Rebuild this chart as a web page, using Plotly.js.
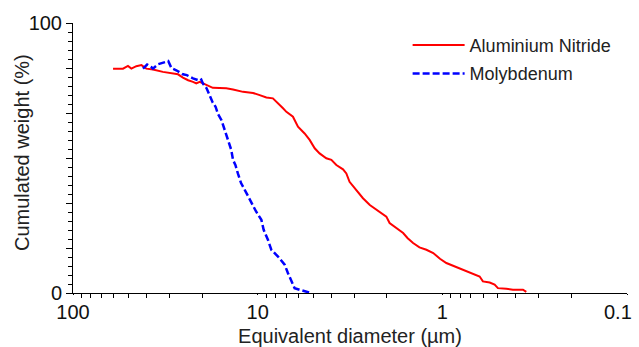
<!DOCTYPE html>
<html>
<head>
<meta charset="utf-8">
<script src="https://cdn.plot.ly/plotly-3.0.1.min.js"></script>
<style>html,body{margin:0;padding:0;background:#fff;}#chart{width:639px;height:347px;}</style>
</head>
<body>
<div id="chart"></div>
<script>
// Aluminium Nitride: equivalent diameter (µm) and cumulated weight (%)
const alnDiameter = [60.7,53.6,50.4,48.3,45.4,42.6,40.1,36.9,32.6,29.3,27.0,25.4,23.8,22.4,21.5,20.6,18.9,17.5,14.8,13.6,12.0,10.6,9.75,8.97,8.27,7.76,7.29,6.99,6.44,6.05,5.57,5.23,4.91,4.62,4.25,3.99,3.75,3.45,3.31,3.18,2.92,2.69,2.47,2.19,2.01,1.93,1.81,1.63,1.54,1.44,1.33,1.22,1.12,1.03,0.951,0.876,0.806,0.741,0.683,0.628,0.603,0.554,0.521,0.500,0.450,0.415,0.366,0.351];
const alnWeight   = [83.1,83.1,84.1,83.1,84.0,84.4,83.1,82.8,81.9,81.3,81.0,79.8,78.8,78.2,77.6,78.2,77.0,76.0,75.8,75.4,74.5,74.1,73.3,72.4,72.1,70.4,68.4,67.1,65.3,61.6,59.1,56.7,53.6,51.7,49.9,49.3,47.4,45.8,44.3,41.2,38.2,35.1,32.6,30.2,28.3,25.9,24.6,22.2,20.3,18.5,16.9,16.0,14.8,12.7,11.1,10.1,8.9,8.0,7.1,6.1,4.3,3.9,3.1,1.8,1.6,1.2,1.2,0.4];

// Molybdenum
const moDiameter = [41.8,39.7,37.7,36.9,34.7,32.9,30.5,29.3,27.6,25.4,24.2,22.4,20.6,20.2,19.8,18.9,18.2,17.5,16.9,16.4,15.7,15.3,14.8,14.3,13.9,13.6,13.2,12.8,12.3,11.5,10.8,10.2,9.55,9.28,8.80,8.43,7.76,7.14,6.86,6.57,6.31,5.93,5.45,5.16];
const moWeight   = [83.1,84.6,83.7,83.1,84.7,85.3,85.9,83.3,82.5,81.0,80.7,79.5,78.6,79.0,77.6,75.8,73.3,70.5,69.0,66.3,64.0,61.6,58.5,56.0,53.0,49.3,47.4,44.3,40.7,37.0,33.3,30.2,27.1,23.4,19.7,16.0,13.5,10.5,7.4,4.3,1.8,1.2,0.6,0];

const seriesNames = ["Aluminium Nitride", "Molybdenum"];
const xTitle = "Equivalent diameter (µm)";
const yTitle = "Cumulated weight (%)";
const xTickVals = [100, 10, 1, 0.1];
const xTickText = ["100", "10", "1", ""];   // last label "0.1" drawn as annotation so it stays inside the page
const xLastLabel = "0.1";
const yTickVals = [0, 100/6, 200/6, 50, 400/6, 500/6, 100];
const yTickText = ["0", "", "", "", "", "", "100"];

const xMinor = [];
[10, 1, 0.1].forEach(b => { for (let k = 2; k <= 9; k++) xMinor.push(b * k); });
const yMinor = [];
for (let i = 0; i <= 30; i++) if (i % 5 !== 0) yMinor.push(i * 100 / 30);

const font = "Liberation Sans, Arial, sans-serif";
const blanks = n => Array(n).fill("");

const traces = [
  {x: alnDiameter, y: alnWeight, name: seriesNames[0], mode: "lines", type: "scatter",
   legendgroup: "a", line: {color: "#ff0000", width: 2}},
  {x: moDiameter, y: moWeight, name: seriesNames[1], mode: "lines", type: "scatter",
   legendgroup: "b", line: {color: "#0000ff", width: 2.5, dash: "7px,3px"}}
];

const tickOverlay = (type, range, overlaying, anchor, side, vals, dir, len) => ({
  type: type, range: range, overlaying: overlaying, anchor: anchor, side: side,
  showgrid: false, zeroline: false, showline: false,
  tickmode: "array", tickvals: vals, ticktext: blanks(vals.length),
  ticks: dir, ticklen: len, tickcolor: "#000"
});

const layout = {
  width: 639, height: 347,
  margin: {l: 73, r: 11.5, t: 22.7, b: 53.7},
  paper_bgcolor: "#fff", plot_bgcolor: "#fff",
  font: {family: font, size: 20, color: "#000"},
  showlegend: true,
  legend: {x: 0.604, y: 0.986, xanchor: "left", yanchor: "top", bgcolor: "rgba(0,0,0,0)",
           font: {family: font, size: 18, color: "#222"},
           tracegroupgap: 2, itemwidth: 52},
  xaxis: {type: "log", range: [2, -1], showgrid: false, zeroline: false,
          showline: true, linecolor: "#000", linewidth: 1,
          tickmode: "array", tickvals: xTickVals, ticktext: xTickText,
          ticks: "outside", ticklen: 1, tickcolor: "#000",
          tickfont: {size: 20, color: "#111"},
          minor: {tickvals: xMinor, ticks: "outside", ticklen: 4, tickcolor: "#000", showgrid: false},
          title: {text: xTitle, font: {size: 20, color: "#222"}, standoff: 6}},
  yaxis: {range: [0, 100], showgrid: false, zeroline: false,
          showline: true, linecolor: "#000", linewidth: 1,
          tickmode: "array", tickvals: yTickVals, ticktext: yTickText,
          ticks: "outside", ticklen: 6, tickcolor: "#000",
          tickfont: {size: 20, color: "#111"},
          minor: {tickvals: yMinor, ticks: "outside", ticklen: 4, tickcolor: "#000", showgrid: false}},
  xaxis2: tickOverlay("log", [2, -1], "x", "y", "bottom", xTickVals, "inside", 5),
  xaxis3: tickOverlay("log", [2, -1], "x", "y", "bottom", xTickVals, "outside", 6),
  yaxis2: tickOverlay("linear", [0, 100], "y", "x", "left", yTickVals, "inside", 5),
  annotations: [
    {text: yTitle, textangle: -90, xref: "paper", yref: "paper",
     x: 0, y: 0.5, xanchor: "center", yanchor: "middle",
     xshift: -51, yshift: 5, showarrow: false,
     font: {family: font, size: 20, color: "#222"}},
    {text: xLastLabel, xref: "x", yref: "paper",
     x: Math.log10(xTickVals[3]), y: 0, xanchor: "right", yanchor: "middle",
     xshift: 7, yshift: -19, showarrow: false,
     font: {family: font, size: 20, color: "#111"}}
  ]
};

Plotly.newPlot("chart", traces, layout, {displayModeBar: false, staticPlot: true});
</script>
</body>
</html>
